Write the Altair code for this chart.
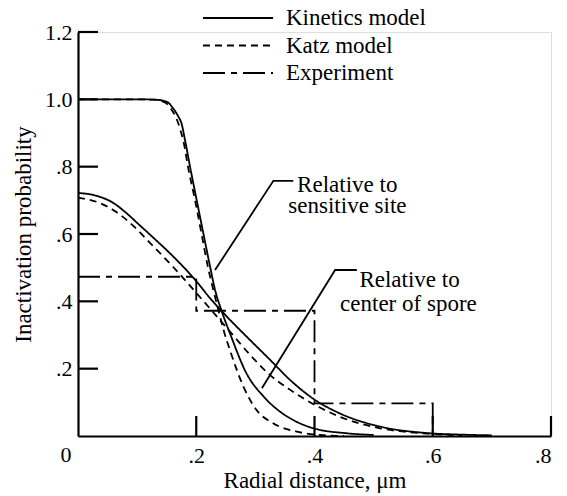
import altair as alt
import pandas as pd

FONT = "'Liberation Serif', 'Times New Roman', Times, 'DejaVu Serif', serif"

# ---- data ----
# Kinetics model, relative to sensitive site
ks_x = [0.0, 0.10, 0.13, 0.150, 0.161, 0.170, 0.175, 0.181, 0.1895, 0.2008, 0.212, 0.2234, 0.2318, 0.243, 0.257, 0.285, 0.314, 0.342, 0.370, 0.398, 0.455, 0.50]
ks_y = [1.0, 1.0, 0.999, 0.993, 0.973, 0.948, 0.929, 0.879, 0.80, 0.70, 0.602, 0.503, 0.434, 0.371, 0.305, 0.186, 0.117, 0.072, 0.042, 0.023, 0.008, 0.003]
# Katz model, relative to sensitive site
zs_x = [0.0, 0.10, 0.128, 0.148, 0.158, 0.166, 0.173, 0.179, 0.186, 0.198, 0.209, 0.22, 0.228, 0.238, 0.247, 0.257, 0.28, 0.302, 0.33, 0.37, 0.41, 0.45]
zs_y = [1.0, 1.0, 0.999, 0.99, 0.97, 0.945, 0.91, 0.87, 0.80, 0.70, 0.60, 0.50, 0.44, 0.37, 0.31, 0.255, 0.146, 0.077, 0.038, 0.013, 0.003, 0.0]
# Kinetics model, relative to center of spore
kc_x = [0.0, 0.03, 0.06, 0.08, 0.105, 0.133, 0.15, 0.173, 0.201, 0.223, 0.243, 0.291, 0.325, 0.359, 0.401, 0.443, 0.511, 0.596, 0.65, 0.70]
kc_y = [0.722, 0.714, 0.692, 0.665, 0.625, 0.58, 0.552, 0.512, 0.458, 0.41, 0.371, 0.285, 0.226, 0.166, 0.107, 0.067, 0.028, 0.008, 0.004, 0.002]
# Katz model, relative to center of spore
zc_x = [0.0, 0.037, 0.065, 0.093, 0.122, 0.161, 0.19, 0.203, 0.225, 0.243, 0.263, 0.291, 0.325, 0.359, 0.401, 0.443, 0.511, 0.584, 0.65]
zc_y = [0.708, 0.692, 0.665, 0.625, 0.573, 0.502, 0.445, 0.419, 0.375, 0.338, 0.298, 0.241, 0.181, 0.137, 0.092, 0.057, 0.023, 0.008, 0.002]
# Experiment (histogram steps)
ex_x = [0.0, 0.2, 0.2, 0.4, 0.4, 0.6, 0.6]
ex_y = [0.473, 0.473, 0.372, 0.372, 0.097, 0.097, 0.0]

series = ["Kinetics model", "Katz model", "Experiment"]

# annotation leader lines
site_lx = [0.364, 0.3305, 0.2318]
site_ly = [0.758, 0.758, 0.493]
spore_lx = [0.4716, 0.4349, 0.311]
spore_ly = [0.493, 0.493, 0.142]
note_text = ["Relative to", "sensitive site", "Relative to", "center of spore"]
note_x = [0.3706, 0.3558, 0.476, 0.4433]
note_y = [0.7247, 0.661, 0.4435, 0.372]

x_ticks = [0.2, 0.4, 0.6, 0.8]
y_ticks = [0.2, 0.4, 0.6, 0.8, 1.0, 1.2]

# ---- tables ----
rows = []
for name, model, xs_, ys_ in [
    ("ks", "Kinetics model", ks_x, ks_y),
    ("kc", "Kinetics model", kc_x, kc_y),
    ("zs", "Katz model", zs_x, zs_y),
    ("zc", "Katz model", zc_x, zc_y),
]:
    for i, (a, b) in enumerate(zip(xs_, ys_)):
        rows.append({"x": a, "y": b, "model": model, "curve": name, "i": i})
curves = pd.DataFrame(rows)
exp = pd.DataFrame({"x": ex_x, "y": ex_y, "model": "Experiment", "curve": "ex", "i": list(range(len(ex_x)))})

lead = pd.DataFrame(
    [{"x": a, "y": b, "g": "site", "i": i} for i, (a, b) in enumerate(zip(site_lx, site_ly))]
    + [{"x": a, "y": b, "g": "spore", "i": i} for i, (a, b) in enumerate(zip(spore_lx, spore_ly))]
)
notes = pd.DataFrame({"t": note_text, "x": note_x, "y": note_y})

W, H = 473, 404
xs = alt.Scale(domain=[0, 0.8], nice=False, zero=False)
ys = alt.Scale(domain=[0, 1.2], nice=False, zero=False)

fmt = "replace(format(datum.value, '.1f'), '0.', '.')"
x_axis = alt.Axis(
    values=x_ticks, labelExpr=fmt, grid=False, ticks=False, tickSize=0,
    domain=True, domainColor="black", domainWidth=2.2,
    labelFont=FONT, labelFontSize=22, labelColor="black", labelPadding=9,
    title="Radial distance, μm", titleFont=FONT, titleFontSize=23,
    titleFontWeight="normal", titleColor="black", titlePadding=3,
)
y_axis = alt.Axis(
    values=y_ticks,
    labelExpr="datum.value >= 1 ? format(datum.value, '.1f') : " + fmt,
    grid=False, ticks=False, tickSize=0,
    domain=True, domainColor="black", domainWidth=2.2,
    labelFont=FONT, labelFontSize=22, labelColor="black", labelPadding=6,
    title="Inactivation probability", titleFont=FONT, titleFontSize=23,
    titleFontWeight="normal", titleColor="black", titlePadding=9,
)

dash_enc = alt.StrokeDash(
    "model:N",
    scale=alt.Scale(domain=series, range=[[1, 0], [7, 5], [22, 6, 6, 6]]),
    legend=alt.Legend(
        title=None, orient="none", legendX=124, legendY=-25,
        symbolType="stroke", symbolSize=4900, symbolStrokeWidth=1.8,
        symbolStrokeColor="black", labelFont=FONT, labelFontSize=23,
        labelColor="black", labelOffset=12, clipHeight=22, rowPadding=4.5,
        padding=0,
    ),
)

curve_layer = alt.Chart(curves).mark_line(
    color="black", strokeWidth=1.8, interpolate="monotone"
).encode(
    x=alt.X("x:Q", scale=xs, axis=x_axis),
    y=alt.Y("y:Q", scale=ys, axis=y_axis),
    strokeDash=dash_enc,
    detail="curve:N",
    order="i:Q",
)

exp_layer = alt.Chart(exp).mark_line(color="black", strokeWidth=1.8).encode(
    x=alt.X("x:Q", scale=xs),
    y=alt.Y("y:Q", scale=ys),
    strokeDash=dash_enc,
    order="i:Q",
)

lead_layer = alt.Chart(lead).mark_line(color="black", strokeWidth=1.8).encode(
    x=alt.X("x:Q", scale=xs),
    y=alt.Y("y:Q", scale=ys),
    detail="g:N",
    order="i:Q",
)

note_layer = alt.Chart(notes).mark_text(
    font=FONT, fontSize=23, color="black", align="left", baseline="alphabetic"
).encode(
    x=alt.X("x:Q", scale=xs),
    y=alt.Y("y:Q", scale=ys),
    text="t:N",
)

ytick_layer = alt.Chart(pd.DataFrame({"v": y_ticks})).mark_rule(
    color="black", strokeWidth=2.2
).encode(
    y=alt.Y("v:Q", scale=ys),
    x=alt.value(0),
    x2=alt.value(20),
)

xtick_layer = alt.Chart(pd.DataFrame({"v": x_ticks})).mark_rule(
    color="black", strokeWidth=2.2
).encode(
    x=alt.X("v:Q", scale=xs),
    y=alt.value(H),
    y2=alt.value(H - 20),
)

zero_layer = alt.Chart(pd.DataFrame({"v": [0], "t": ["0"]})).mark_text(
    font=FONT, fontSize=22, color="black", align="center",
    baseline="alphabetic", dx=-12, dy=26,
).encode(
    x=alt.X("v:Q", scale=xs),
    y=alt.Y("v:Q", scale=ys),
    text="t:N",
)

chart = alt.layer(
    curve_layer, exp_layer, lead_layer, note_layer, ytick_layer, xtick_layer, zero_layer
).properties(
    width=W, height=H,
    autosize=alt.AutoSizeParams(type="none"),
    padding={"left": 70, "top": 24, "right": 8, "bottom": 58},
).configure_view(stroke=None).configure(background="white")

chart.save("out.html", embed_options={"renderer": "svg", "actions": False})
